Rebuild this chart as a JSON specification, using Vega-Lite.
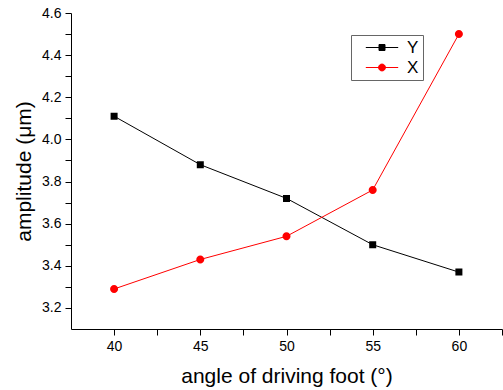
{
  "$schema": "https://vega.github.io/schema/vega-lite/v6.json",
  "autosize": "none",
  "padding": {"left": 71, "top": 13, "right": 1, "bottom": 61},
  "width": 431,
  "height": 316,
  "config": {
    "view": {"stroke": null},
    "font": "Liberation Sans",
    "axis": {
      "domainColor": "black",
      "tickColor": "black",
      "labelColor": "black",
      "titleColor": "black",
      "labelFont": "Liberation Sans",
      "titleFont": "Liberation Sans",
      "labelFontSize": 14,
      "titleFontSize": 21,
      "titleFontWeight": "normal",
      "grid": false,
      "tickSize": 6
    }
  },
  "data": {
    "values": [
      {"angle": 40, "series": "Y", "amp": 4.11},
      {"angle": 45, "series": "Y", "amp": 3.88},
      {"angle": 50, "series": "Y", "amp": 3.72},
      {"angle": 55, "series": "Y", "amp": 3.50},
      {"angle": 60, "series": "Y", "amp": 3.37},
      {"angle": 40, "series": "X", "amp": 3.29},
      {"angle": 45, "series": "X", "amp": 3.43},
      {"angle": 50, "series": "X", "amp": 3.54},
      {"angle": 55, "series": "X", "amp": 3.76},
      {"angle": 60, "series": "X", "amp": 4.50}
    ]
  },
  "encoding": {
    "x": {
      "field": "angle", "type": "quantitative",
      "scale": {"domain": [37.5, 62.5], "nice": false, "zero": false},
      "axis": {
        "title": "angle of driving foot (°)",
        "values": [40, 42.5, 45, 47.5, 50, 52.5, 55, 57.5, 60, 62.5],
        "labelExpr": "datum.value % 5 == 0 ? datum.value : ''",
        "labelPadding": 4,
        "titlePadding": 12,
        "encode": {"ticks": {"update": {"y2": {"signal": "datum.value % 5 == 0 ? 6 : 3"}}}}
      }
    },
    "y": {
      "field": "amp", "type": "quantitative",
      "scale": {"domain": [3.1, 4.6], "nice": false, "zero": false},
      "axis": {
        "title": "amplitude (μm)",
        "values": [3.2, 3.3, 3.4, 3.5, 3.6, 3.7, 3.8, 3.9, 4.0, 4.1, 4.2, 4.3, 4.4, 4.5, 4.6],
        "labelExpr": "round(datum.value*10) % 2 == 0 ? format(datum.value, '.1f') : ''",
        "labelPadding": 4,
        "titlePadding": 7,
        "encode": {"ticks": {"update": {"x2": {"signal": "round(datum.value*10) % 2 == 0 ? -6 : -3"}}}}
      }
    },
    "color": {
      "field": "series", "type": "nominal",
      "scale": {"domain": ["Y", "X"], "range": ["#000000", "#ff0000"]},
      "legend": {
        "title": null,
        "orient": "none",
        "legendX": 280,
        "legendY": 22,
        "strokeColor": "#666666",
        "padding": 4,
        "labelFontSize": 17,
        "labelFont": "Liberation Sans",
        "labelColor": "black",
        "labelOffset": 35,
        "rowPadding": 2,
        "symbolSize": 49,
        "encode": {
          "symbols": {
            "update": {
              "stroke": {"scale": "color", "field": "value"},
              "strokeWidth": {"value": 1},
              "size": {"value": 36},
              "x": {"value": 27}
            }
          }
        }
      }
    }
  },
  "layer": [
    {
      "mark": {"type": "line", "strokeWidth": 1},
      "encoding": {}
    },
    {
      "mark": {"type": "point", "filled": true, "opacity": 1, "size": 49, "strokeWidth": 0},
      "encoding": {
        "shape": {
          "field": "series", "type": "nominal",
          "scale": {
            "domain": ["Y", "X"],
            "range": [
              "M-5.4,0H5.4M-1,-1H1V1H-1Z",
              "M-5.4,0H5.4M-1.15,0A1.15,1.15 0 1,0 1.15,0A1.15,1.15 0 1,0 -1.15,0Z"
            ]
          }
        }
      }
    }
  ]
}
